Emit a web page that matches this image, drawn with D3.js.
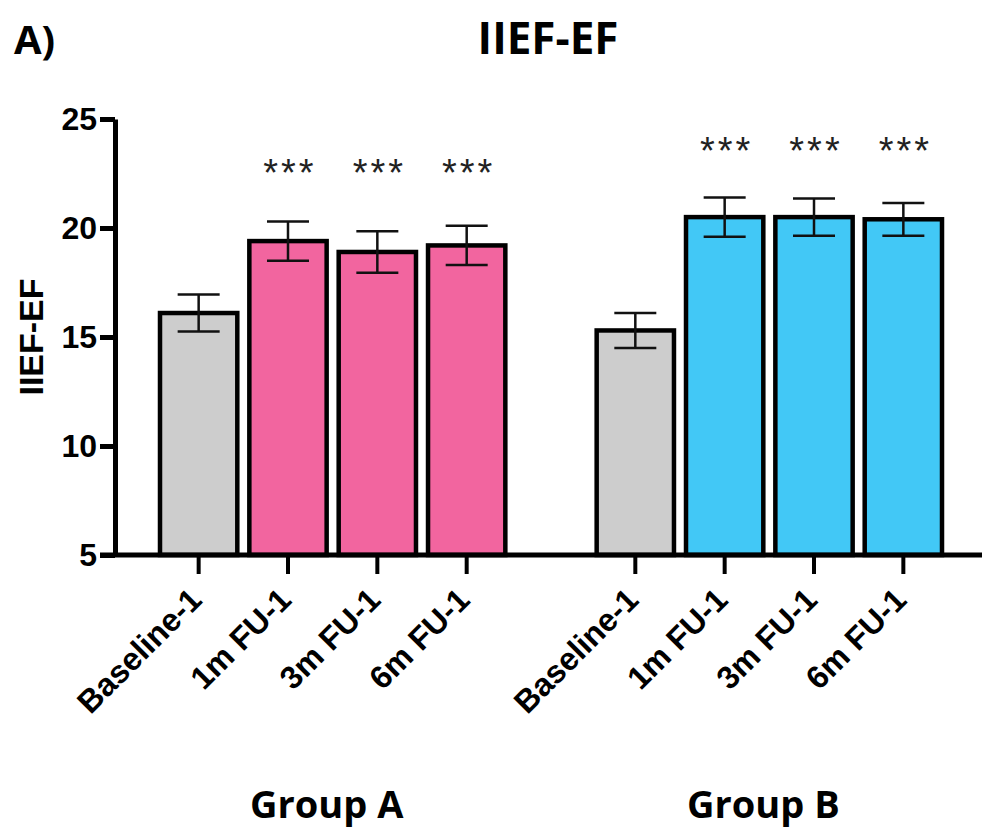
<!DOCTYPE html>
<html>
<head>
<meta charset="utf-8">
<script src="https://cdn.jsdelivr.net/npm/d3@7"></script>
<style>
  body { margin: 0; background: white; }
</style>
</head>
<body>
<div id="viz"></div>
<script>
const groups = ["Group A", "Group B"];
const timepoints = ["Baseline-1", "1m FU-1", "3m FU-1", "6m FU-1"];
const groupA = [16.1, 19.4, 18.9, 19.2];
const groupAErr = [0.85, 0.9, 0.95, 0.9];
const groupB = [15.3, 20.5, 20.5, 20.4];
const groupBErr = [0.8, 0.9, 0.85, 0.75];
const sigMarks = [["", "***", "***", "***"], ["", "***", "***", "***"]];
const sigLevel = [22.8, 23.8];
const yTicks = [5, 10, 15, 20, 25];

const colors = { base: "#cdcdcd", "Group A": "#f2659f", "Group B": "#42c8f6" };

const width = 984, height = 829;
const svg = d3.select("#viz").append("svg")
    .attr("width", width)
    .attr("height", height)
    .style("background", "white");

const y = d3.scaleLinear().domain([5, 25]).range([555, 119]);
const xGroup = d3.scaleBand().domain(groups).range([158, 944]).paddingInner(0.2);
const xInner = d3.scaleBand().domain(timepoints).range([0, xGroup.bandwidth()]).paddingInner(0.09);

const rows = [];
groups.forEach((g, gi) => {
    const vals = gi === 0 ? groupA : groupB;
    const errs = gi === 0 ? groupAErr : groupBErr;
    timepoints.forEach((t, i) => {
        rows.push({ group: g, gi: gi, tp: t, i: i, value: vals[i], err: errs[i], sig: sigMarks[gi][i] });
    });
});
const cx = d => xGroup(d.group) + xInner(d.tp) + xInner.bandwidth() / 2;

// bars
svg.append("g").selectAll("rect")
    .data(rows)
    .enter().append("rect")
    .attr("x", d => xGroup(d.group) + xInner(d.tp) + 2)
    .attr("y", d => y(d.value))
    .attr("width", xInner.bandwidth() - 4)
    .attr("height", d => y(5) - y(d.value))
    .attr("fill", d => d.i === 0 ? colors.base : colors[d.group])
    .attr("stroke", "black")
    .attr("stroke-width", 4.5);

// error bars
const eb = svg.append("g").attr("stroke", "#111").attr("stroke-width", 2.5);
rows.forEach(d => {
    const x0 = cx(d);
    eb.append("line").attr("x1", x0).attr("x2", x0)
        .attr("y1", y(d.value + d.err)).attr("y2", y(d.value - d.err));
    [d.value + d.err, d.value - d.err].forEach(v => {
        eb.append("line").attr("x1", x0 - 21).attr("x2", x0 + 21)
            .attr("y1", y(v)).attr("y2", y(v));
    });
});

// significance stars
svg.append("g").selectAll("text")
    .data(rows.filter(d => d.sig))
    .enter().append("text")
    .attr("x", d => cx(d) + 2)
    .attr("y", d => y(sigLevel[d.gi]) + 19)
    .attr("text-anchor", "middle")
    .attr("font-family", "'Liberation Sans', Arial, sans-serif")
    .attr("font-size", 38)
    .attr("letter-spacing", 3)
    .attr("fill", "#222")
    .text(d => d.sig);

// y axis
const yAxis = svg.append("g")
    .attr("transform", "translate(115,0)")
    .call(d3.axisLeft(y).tickValues(yTicks).tickSize(15).tickSizeOuter(0).tickPadding(3));
yAxis.select(".domain").attr("stroke-width", 5).attr("stroke", "black");
yAxis.selectAll(".tick line").attr("stroke-width", 5).attr("stroke", "black");
yAxis.selectAll(".tick text")
    .attr("font-family", "'Liberation Sans', Arial, sans-serif")
    .attr("font-weight", "bold")
    .attr("font-size", 32)
    .attr("fill", "black");

// x axis line and ticks
svg.append("line")
    .attr("x1", 100).attr("x2", 982)
    .attr("y1", y(5)).attr("y2", y(5))
    .attr("stroke", "black").attr("stroke-width", 5);
svg.append("g").selectAll("line")
    .data(rows)
    .enter().append("line")
    .attr("x1", cx).attr("x2", cx)
    .attr("y1", y(5)).attr("y2", y(5) + 19)
    .attr("stroke", "black").attr("stroke-width", 4);

// x labels
svg.append("g").selectAll("text")
    .data(rows)
    .enter().append("text")
    .attr("transform", d => `translate(${cx(d) + 5},602) rotate(-45)`)
    .attr("text-anchor", "end")
    .attr("font-family", "'Liberation Sans', Arial, sans-serif")
    .attr("font-weight", "bold")
    .attr("font-size", 32)
    .text(d => d.tp);

// group labels
svg.append("g").selectAll("text")
    .data(groups)
    .enter().append("text")
    .attr("x", d => xGroup(d) + xGroup.bandwidth() / 2 - 6)
    .attr("y", 818)
    .attr("text-anchor", "middle")
    .attr("font-family", "'Open Sans', sans-serif")
    .attr("font-weight", "bold")
    .attr("font-size", 38)
    .text(d => d);

// y label
svg.append("text")
    .attr("transform", `translate(43,${(y(5) + y(25)) / 2}) rotate(-90)`)
    .attr("text-anchor", "middle")
    .attr("font-family", "'Liberation Sans', Arial, sans-serif")
    .attr("font-weight", "bold")
    .attr("font-size", 34)
    .text("IIEF-EF");

// titles
svg.append("text")
    .attr("x", 14).attr("y", 54)
    .attr("font-family", "'Open Sans', sans-serif")
    .attr("font-weight", "bold")
    .attr("font-size", 40)
    .text("A)");
svg.append("text")
    .attr("x", 548).attr("y", 54)
    .attr("text-anchor", "middle")
    .attr("font-family", "'Open Sans', sans-serif")
    .attr("font-weight", "bold")
    .attr("font-size", 44)
    .text("IIEF-EF");
</script>
</body>
</html>
